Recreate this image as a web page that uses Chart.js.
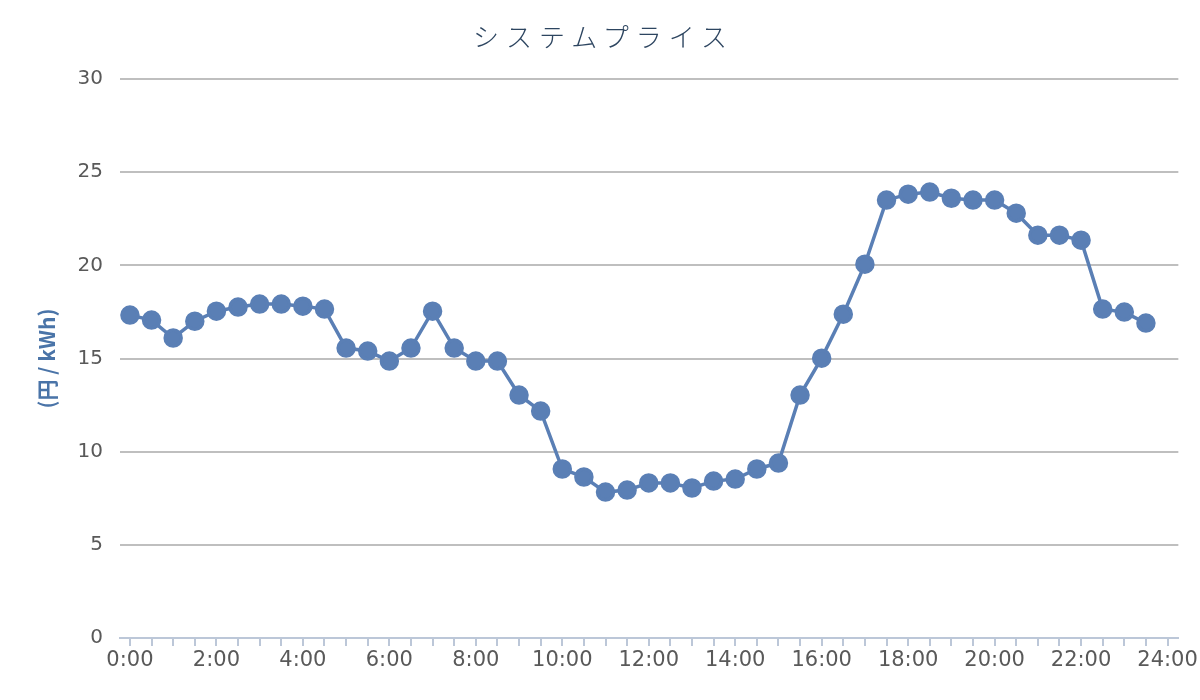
<!DOCTYPE html>
<html><head><meta charset="utf-8">
<script src="https://cdn.jsdelivr.net/npm/chart.js@4.4.1/dist/chart.umd.min.js"></script>
<style>
html,body{margin:0;padding:0;background:#fff;}
#wrap{position:relative;width:1200px;height:700px;}
#title{position:absolute;left:0;top:16px;width:1200px;text-align:center;font-family:"Noto Sans CJK JP";font-weight:300;font-size:26px;letter-spacing:7px;text-indent:7px;color:#2d4560;line-height:40px;}
</style></head><body>
<div id="wrap"><canvas id="c" width="1200" height="700" style="width:1200px;height:700px"></canvas><div id="title">システムプライス</div></div>
<script>
const times = ['0:00','0:30','1:00','1:30','2:00','2:30','3:00','3:30','4:00','4:30','5:00','5:30',
  '6:00','6:30','7:00','7:30','8:00','8:30','9:00','9:30','10:00','10:30','11:00','11:30',
  '12:00','12:30','13:00','13:30','14:00','14:30','15:00','15:30','16:00','16:30','17:00','17:30',
  '18:00','18:30','19:00','19:30','20:00','20:30','21:00','21:30','22:00','22:30','23:00','23:30'];
const prices = [17.33,17.06,16.10,17.00,17.54,17.76,17.92,17.92,17.81,17.65,15.56,15.40,
  14.86,15.56,17.54,15.56,14.86,14.86,13.04,12.18,9.07,8.64,7.83,7.94,
  8.32,8.32,8.05,8.42,8.53,9.07,9.39,13.04,15.02,17.38,20.06,23.50,
  23.82,23.93,23.60,23.50,23.50,22.80,21.62,21.62,21.35,17.65,17.49,16.90];
const xTickLabels = ['0:00','2:00','4:00','6:00','8:00','10:00','12:00','14:00','16:00','18:00','20:00','22:00','24:00'];
const yTickValues = [0,5,10,15,20,25,30];
const yTitle = '(円 / kWh)';

const toHours = s => { const [h,m] = s.split(':').map(Number); return h + m/60; };
const points = times.map((t,i) => ({x: toHours(t), y: prices[i]}));
const xMajor = xTickLabels.map(toHours);
const xTickValues = [];
for (let i = 0; i < xMajor.length; i++) {
  xTickValues.push(xMajor[i]);
  if (i < xMajor.length - 1) { xTickValues.push(xMajor[i] + 0.5, xMajor[i] + 1, xMajor[i] + 1.5); }
}
const lineColor = '#5a7fb5';

new Chart(document.getElementById('c'), {
  type: 'line',
  data: { datasets: [{
    data: points,
    borderColor: lineColor, backgroundColor: lineColor,
    pointBackgroundColor: lineColor, pointBorderColor: lineColor,
    borderWidth: 3.5, pointRadius: 8, pointHoverRadius: 8, tension: 0, clip: false
  }]},
  options: {
    responsive: false, animation: false,
    layout: { padding: { top: 79, right: 20, bottom: 0, left: 0 } },
    plugins: { legend: { display: false }, tooltip: { enabled: false } },
    scales: {
      x: {
        type: 'linear', min: -0.23, max: 24.25,
        afterBuildTicks: s => { s.ticks = xTickValues.map(v => ({ value: v })); },
        afterFit: s => { s.height = 62; },
        grid: { drawOnChartArea: false, drawTicks: true, tickLength: 8, color: '#bcc7d8', lineWidth: 2 },
        border: { color: '#bcc7d8', width: 2 },
        ticks: {
          autoSkip: false, maxRotation: 0, minRotation: 0, padding: 2, color: '#595959',
          font: { family: 'DejaVu Sans', size: 21 },
          callback: v => { const i = xMajor.indexOf(v); return i >= 0 ? xTickLabels[i] : ''; }
        }
      },
      y: {
        min: 0, max: 30,
        afterBuildTicks: s => { s.ticks = yTickValues.map(v => ({ value: v })); },
        afterFit: s => { s.width = 120; },
        grid: { drawTicks: false, lineWidth: 2,
          color: c => (c.tick && c.tick.value === 0) ? 'rgba(0,0,0,0)' : '#bfbfbf' },
        border: { display: false },
        ticks: { padding: 17, color: '#595959', font: { family: 'DejaVu Sans', size: 20 } },
        title: { display: true, text: yTitle, color: '#4a74a8',
          font: { family: 'Noto Sans CJK JP', size: 21, weight: 'bold' },
          padding: { top: 34, bottom: 0 } }
      }
    }
  }
});
</script>
</body></html>
